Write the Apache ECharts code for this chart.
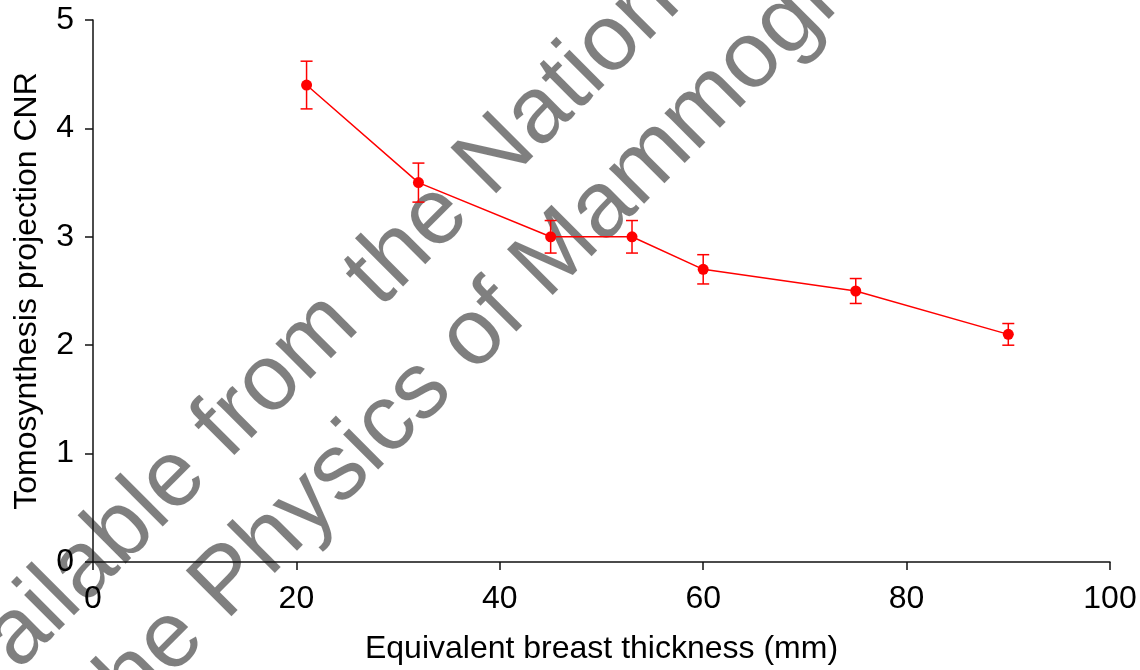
<!DOCTYPE html>
<html>
<head>
<meta charset="utf-8">
<script src="https://cdn.jsdelivr.net/npm/echarts@6/dist/echarts.min.js"></script>
<style>
  html, body { margin: 0; padding: 0; background: #fff; }
  #chart { width: 1140px; height: 670px; }
</style>
</head>
<body>
<div id="chart"></div>
<script>
// data
var thickness = [21, 32, 45, 53, 60, 75, 90];
var cnr = [4.4, 3.5, 3.0, 3.0, 2.7, 2.5, 2.1];
var cnrErr = [0.22, 0.18, 0.15, 0.15, 0.135, 0.115, 0.1];
var xTicks = [0, 20, 40, 60, 80, 100];
var yTicks = [0, 1, 2, 3, 4, 5];

var FONT = '"Liberation Sans", Arial, sans-serif';
var RED = '#ff0000';

var points = thickness.map(function (x, i) { return [x, cnr[i]]; });
var errData = thickness.map(function (x, i) { return [x, cnr[i] - cnrErr[i], cnr[i] + cnrErr[i]]; });

var chart = echarts.init(document.getElementById('chart'));

// watermark (semi transparent black over the plot)
var wmFont = '94px ' + FONT;
var wmFill = 'rgba(0,0,0,0.5)';
var watermark = {
  type: 'group',
  x: 495,
  y: 203,
  rotation: Math.PI / 4,
  z: 100,
  silent: true,
  children: [
    { type: 'text', x: -26, y: -32, style: { text: 'Available from the', font: wmFont, fill: wmFill, align: 'right', verticalAlign: 'middle' } },
    { type: 'text', x: 0, y: -32, style: { text: 'National Coordinating Centre for', font: wmFont, fill: wmFill, align: 'left', verticalAlign: 'middle' } },
    { type: 'text', x: -58, y: 80, style: { text: 'the Physics of', font: wmFont, fill: wmFill, align: 'right', verticalAlign: 'middle' } },
    { type: 'text', x: -32, y: 80, style: { text: 'Mammography', font: wmFont, fill: wmFill, align: 'left', verticalAlign: 'middle' } }
  ]
};

var option = {
  animation: false,
  backgroundColor: '#fff',
  grid: { left: 93, right: 30, top: 20, bottom: 107, containLabel: false },
  xAxis: {
    type: 'value',
    min: 0, max: 100, interval: 20,
    name: 'Equivalent breast thickness (mm)',
    nameLocation: 'middle',
    nameGap: 71,
    nameTextStyle: { fontFamily: FONT, fontSize: 32, color: '#000' },
    axisLine: { show: true, lineStyle: { color: '#111', width: 1.5 } },
    axisTick: { show: true, length: 8, lineStyle: { color: '#111', width: 1.5 } },
    axisLabel: {
      margin: 21, fontFamily: FONT, fontSize: 32, color: '#000',
      formatter: function (v) { return xTicks.indexOf(v) >= 0 ? String(v) : ''; }
    },
    splitLine: { show: false }
  },
  yAxis: {
    type: 'value',
    min: 0, max: 5, interval: 1,
    name: 'Tomosynthesis projection CNR',
    nameLocation: 'middle',
    nameGap: 50,
    nameTextStyle: { fontFamily: FONT, fontSize: 32, color: '#000' },
    axisLine: { show: true, lineStyle: { color: '#111', width: 1.5 } },
    axisTick: { show: true, length: 8, lineStyle: { color: '#111', width: 1.5 } },
    axisLabel: {
      margin: 19, fontFamily: FONT, fontSize: 32, color: '#000',
      formatter: function (v) { return yTicks.indexOf(v) >= 0 ? String(v) : ''; }
    },
    splitLine: { show: false }
  },
  graphic: [watermark],
  series: [
    {
      type: 'custom',
      name: 'error',
      data: errData,
      z: 3,
      renderItem: function (params, api) {
        var x = api.value(0);
        var lo = api.coord([x, api.value(1)]);
        var hi = api.coord([x, api.value(2)]);
        var cap = 6;
        var st = { stroke: RED, lineWidth: 1.5 };
        return {
          type: 'group',
          children: [
            { type: 'line', shape: { x1: lo[0], y1: lo[1], x2: hi[0], y2: hi[1] }, style: st },
            { type: 'line', shape: { x1: lo[0] - cap, y1: lo[1], x2: lo[0] + cap, y2: lo[1] }, style: st },
            { type: 'line', shape: { x1: hi[0] - cap, y1: hi[1], x2: hi[0] + cap, y2: hi[1] }, style: st }
          ]
        };
      }
    },
    {
      type: 'line',
      name: 'CNR',
      data: points,
      z: 4,
      symbol: 'circle',
      symbolSize: 11,
      lineStyle: { color: RED, width: 1.5 },
      itemStyle: { color: RED }
    }
  ]
};

chart.setOption(option);
</script>
</body>
</html>
